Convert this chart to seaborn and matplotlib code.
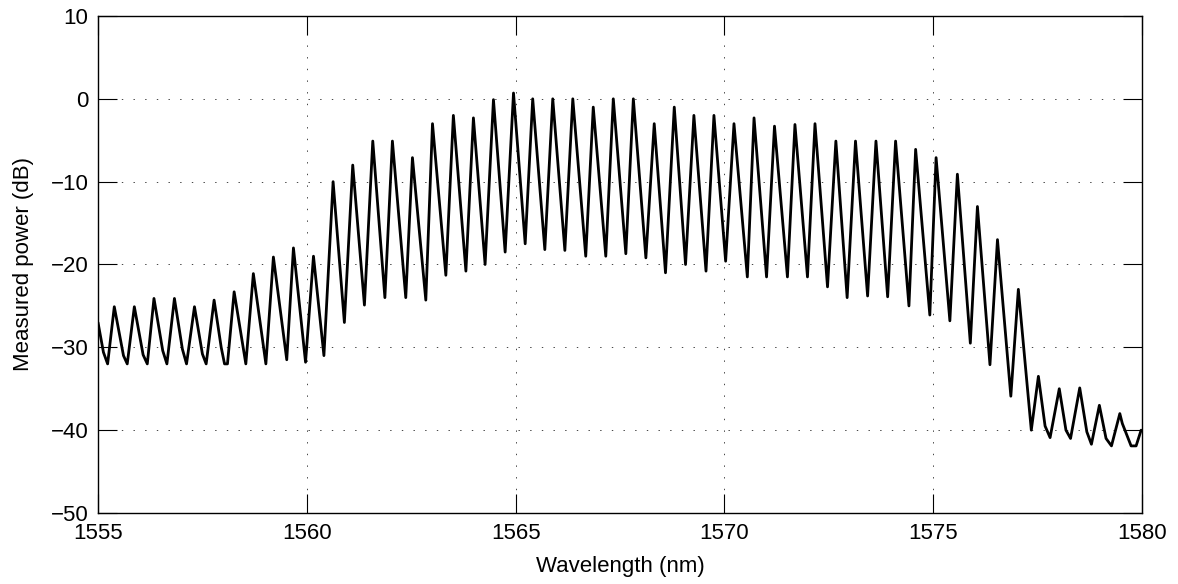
import numpy as np
import pandas as pd
import matplotlib
matplotlib.use('Agg')
import matplotlib.pyplot as plt
import seaborn as sns

#--------------------------------------------------
# fringe extrema (nm, dB)
wavelength_nm = [
    1555.00, 1555.13, 1555.23, 1555.39, 1555.61, 1555.70, 1555.87, 1556.08,
    1556.18, 1556.34, 1556.55, 1556.65, 1556.83, 1557.02, 1557.12, 1557.31,
    1557.50, 1557.59, 1557.78, 1557.95, 1558.03, 1558.10, 1558.26, 1558.54,
    1558.72, 1559.02, 1559.20, 1559.52, 1559.68, 1559.97, 1560.16, 1560.41,
    1560.63, 1560.90, 1561.10, 1561.38, 1561.58, 1561.87, 1562.05, 1562.37,
    1562.53, 1562.85, 1563.01, 1563.33, 1563.51, 1563.81, 1563.99, 1564.27,
    1564.47, 1564.75, 1564.95, 1565.23, 1565.41, 1565.70, 1565.89, 1566.18,
    1566.37, 1566.68, 1566.86, 1567.16, 1567.34, 1567.64, 1567.82, 1568.12,
    1568.32, 1568.59, 1568.80, 1569.07, 1569.27, 1569.56, 1569.75, 1570.03,
    1570.23, 1570.55, 1570.71, 1571.01, 1571.20, 1571.51, 1571.69, 1571.99,
    1572.17, 1572.47, 1572.67, 1572.94, 1573.14, 1573.43, 1573.63, 1573.91,
    1574.10, 1574.42, 1574.58, 1574.92, 1575.07, 1575.40, 1575.58, 1575.89,
    1576.06, 1576.36, 1576.54, 1576.86, 1577.04, 1577.35, 1577.52, 1577.68,
    1577.80, 1578.02, 1578.18, 1578.29, 1578.51, 1578.68, 1578.79, 1578.98,
    1579.14, 1579.27, 1579.47, 1579.53, 1579.74, 1579.86, 1579.98,
]
power_db = [
    -27.0, -30.6, -32.0, -25.1, -31.0, -32.0, -25.1, -30.9,
    -32.0, -24.1, -30.4, -32.0, -24.1, -30.2, -32.0, -25.1,
    -30.8, -32.0, -24.3, -30.0, -32.0, -32.0, -23.3, -32.0,
    -21.1, -32.0, -19.1, -31.5, -18.0, -31.8, -19.0, -31.0,
    -10.0, -27.0, -8.0, -24.9, -5.1, -24.0, -5.1, -24.0,
    -7.1, -24.3, -3.0, -21.3, -2.0, -20.8, -2.3, -20.0,
    -0.1, -18.5, 0.7, -17.5, 0.0, -18.2, 0.0, -18.3,
    0.0, -19.0, -1.0, -19.0, 0.0, -18.7, 0.0, -19.2,
    -3.0, -21.0, -1.0, -20.0, -2.0, -20.8, -2.0, -19.6,
    -3.0, -21.5, -2.3, -21.5, -3.3, -21.5, -3.1, -21.5,
    -3.0, -22.7, -5.1, -24.0, -5.1, -23.8, -5.1, -23.9,
    -5.1, -25.0, -6.1, -26.1, -7.1, -26.8, -9.1, -29.5,
    -13.0, -32.1, -17.0, -35.9, -23.0, -40.0, -33.5, -39.5,
    -40.9, -35.0, -40.0, -41.0, -34.9, -40.2, -41.7, -37.0,
    -41.0, -41.9, -38.0, -39.2, -41.9, -41.9, -40.0,
]

x_ticks = [1555, 1560, 1565, 1570, 1575, 1580]
y_ticks = [-50, -40, -30, -20, -10, 0, 10]


#--------------------------------------------------
def main():
    sns.set_theme(style='white')
    plt.rcParams['font.family'] = ['Liberation Sans', 'DejaVu Sans']
    plt.rcParams['lines.scale_dashes'] = False

    df = pd.DataFrame({'wl': wavelength_nm, 'p': power_db})

    fig = plt.figure(figsize=(11.78, 5.84), dpi=100)
    ax = fig.add_axes([0.0832, 0.1216, 0.8862, 0.8510])

    sns.lineplot(data=df, x='wl', y='p', color='black', linewidth=2.0,
                 estimator=None, sort=False, ax=ax)
    for ln in ax.get_lines():
        ln.set_solid_joinstyle('round')
        ln.set_solid_capstyle('round')

    ax.set_xlim(1555, 1580)
    ax.set_ylim(-50, 10)
    ax.set_xticks(x_ticks)
    ax.set_yticks(y_ticks)
    ax.grid(True, color='#444444', linestyle=(0, (1, 7.4)), linewidth=0.7)

    for sp in ax.spines.values():
        sp.set_visible(True)
        sp.set_color('black')
        sp.set_linewidth(1.0)

    ax.tick_params(direction='in', length=14, width=0.8, color='black',
                   top=True, right=True, bottom=True, left=True,
                   labelsize=16, labelcolor='black', pad=7)
    ax.set_xlabel('Wavelength (nm)', fontsize=16, color='black', labelpad=9)
    ax.set_ylabel('Measured power (dB)', fontsize=16, color='black', labelpad=12)

    fig.savefig('out.png', dpi=100, facecolor='white')


#--------------------------------------------------
if __name__ == '__main__':
    main()
